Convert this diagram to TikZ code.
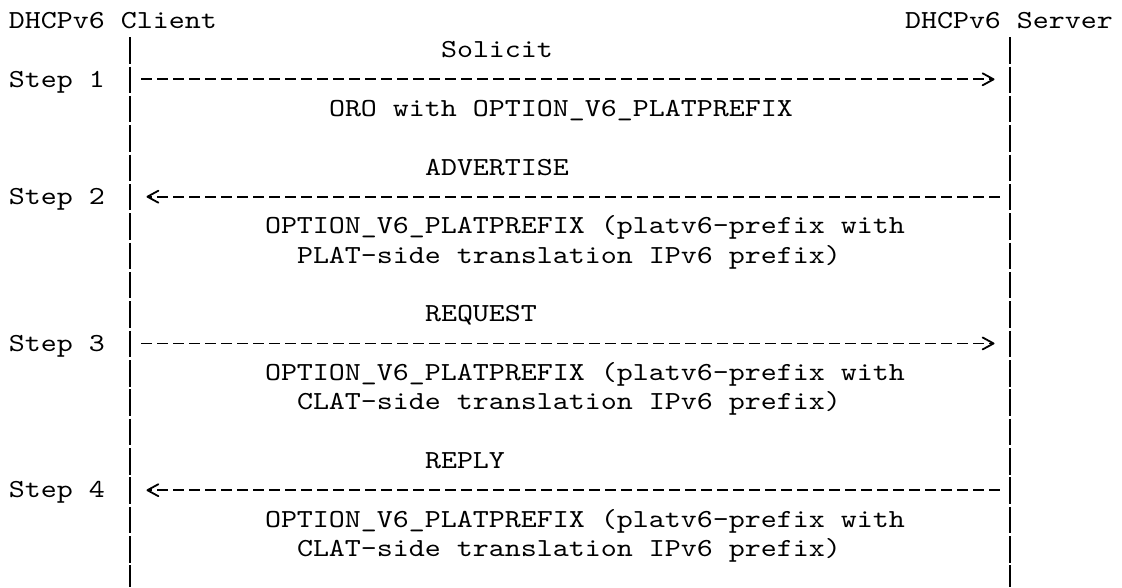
\documentclass[tikz,border=0pt]{standalone}
\usepackage{fontspec}
\newfontfamily\courlike[FakeStretch=1.172]{lmmono10-regular.otf}
\usetikzlibrary{arrows.meta}
\begin{document}
\begin{tikzpicture}[x=1pt,y=-1pt,
  txt/.style={anchor=base west,inner sep=0pt,outer sep=0pt,
    font=\courlike\fontsize{26pt}{29.35pt}\selectfont},
  lifeline/.style={line width=2.2pt,dash pattern=on 26.5pt off 2.85pt},
  msg/.style={line width=1.8pt,dash pattern=on 10.5pt off 5.5pt,
    -{Straight Barb[length=11pt,width=12pt,sep=5.5pt,round]}},
  tosrv/.style={msg,shorten <=10.5pt,shorten >=11pt},
  tocli/.style={msg,shorten <=11pt,shorten >=10pt}
]
\useasboundingbox (0,0) rectangle (1122,587);

% headers
\node[txt] (client) at (9,28.3) {DHCPv6 Client};
\node[txt] (server) at (905,28.3) {DHCPv6 Server};

% lifelines
\coordinate (clTop) at (130,37.15);
\coordinate (clBot) at (130,587);
\coordinate (svTop) at (1010,37.15);
\coordinate (svBot) at (1010,587);
\draw[lifeline] (clTop) -- (clBot);
\draw[lifeline] (svTop) -- (svBot);

% step labels
\node[txt] (step1) at (9,87.0)   {Step 1};
\node[txt] (step2) at (9,204.4)  {Step 2};
\node[txt] (step3) at (9,351.15) {Step 3};
\node[txt] (step4) at (9,497.9)  {Step 4};

% message anchor points on the lifelines
\coordinate (c1) at (130,79.3);   \coordinate (s1) at (1010,79.3);
\coordinate (c2) at (130,196.7);  \coordinate (s2) at (1010,196.7);
\coordinate (c3) at (130,343.45); \coordinate (s3) at (1010,343.45);
\coordinate (c4) at (130,490.2);  \coordinate (s4) at (1010,490.2);

% messages
\draw[tocli] (c1) -- (s1);
\draw[tosrv] (s2) -- (c2);
\draw[tocli] (c3) -- (s3);
\draw[tosrv] (s4) -- (c4);

% message labels
\node[txt] (solicit) at (441,57.65) {Solicit};
\node[txt] (oro)     at (329,116.35) {ORO with OPTION\_V6\_PLATPREFIX};

\node[txt] (adv)   at (425,175.05) {ADVERTISE};
\node[txt] (adv1)  at (265,233.75) {OPTION\_V6\_PLATPREFIX (platv6-prefix with};
\node[txt] (adv2)  at (297,263.1)  {PLAT-side translation IPv6 prefix)};

\node[txt] (req)   at (425,321.8)  {REQUEST};
\node[txt] (req1)  at (265,380.5)  {OPTION\_V6\_PLATPREFIX (platv6-prefix with};
\node[txt] (req2)  at (297,409.85) {CLAT-side translation IPv6 prefix)};

\node[txt] (rep)   at (425,468.55) {REPLY};
\node[txt] (rep1)  at (265,527.25) {OPTION\_V6\_PLATPREFIX (platv6-prefix with};
\node[txt] (rep2)  at (297,556.6)  {CLAT-side translation IPv6 prefix)};
\end{tikzpicture}
\end{document}
